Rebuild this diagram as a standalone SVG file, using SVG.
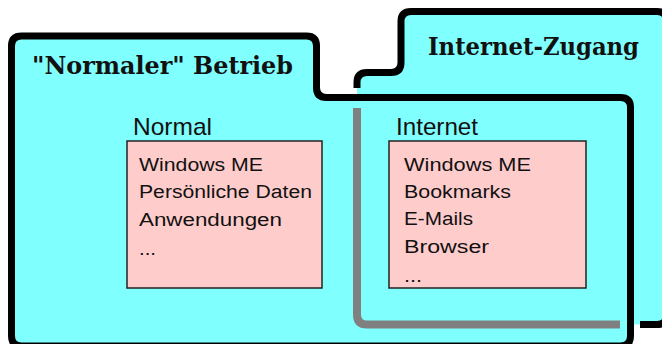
<svg xmlns="http://www.w3.org/2000/svg" width="662" height="344" viewBox="0 0 662 344">
  <style>
    .fold { fill: #80FFFF; }
    .edge { fill: none; stroke: #000; stroke-width: 7; stroke-linejoin: round; }
    .hidden { fill: none; stroke: #808080; stroke-width: 8; }
    .box { fill: #FFCCCC; stroke: #222; stroke-width: 1.5; }
    .title { font-family: "DejaVu Serif", serif; font-weight: bold; font-size: 24px; fill: #111; }
    .label { font-family: "Liberation Sans", Arial, sans-serif; font-size: 24px; fill: #111; }
    .item { font-family: "Liberation Sans", Arial, sans-serif; font-size: 18px; fill: #111; }
  </style>
  <rect width="662" height="344" fill="#fff"/>

  <g id="folder-internet-zugang">
    <path class="fold" d="M 357 82.5 Q 357 72.5 367 72.5 L 391 72.5 Q 401 72.5 401 62.5 L 401 21.5 Q 401 11.5 411 11.5 L 657 11.5 Q 667 11.5 667 21.5 L 667 314.5 Q 667 324.5 657 324.5 L 367 324.5 Q 357 324.5 357 314.5 Z"/>
    <path class="edge" d="M 357 88 L 357 82.5 Q 357 72.5 367 72.5 L 391 72.5 Q 401 72.5 401 62.5 L 401 21.5 Q 401 11.5 411 11.5 L 657 11.5 Q 667 11.5 667 21.5 L 667 120"/>
    <path class="edge" d="M 640 324.5 L 657 324.5 Q 667 324.5 667 314.5"/>
    <text class="title" x="428" y="55" textLength="211" lengthAdjust="spacingAndGlyphs">Internet-Zugang</text>
  </g>

  <g id="folder-normaler-betrieb">
    <path class="fold" d="M 11.5 46 Q 11.5 36 21.5 36 L 306.5 36 Q 316.5 36 316.5 46 L 316.5 87.5 Q 316.5 97.5 326.5 97.5 L 620.5 97.5 Q 630.5 97.5 630.5 107.5 L 630.5 336 Q 630.5 346 620.5 346 L 21.5 346 Q 11.5 346 11.5 336 Z"/>
    <path class="edge" d="M 11.5 46 Q 11.5 36 21.5 36 L 306.5 36 Q 316.5 36 316.5 46 L 316.5 87.5 Q 316.5 97.5 326.5 97.5 L 620.5 97.5 Q 630.5 97.5 630.5 107.5 L 630.5 336 Q 630.5 346 620.5 346 L 21.5 346 Q 11.5 346 11.5 336 Z"/>
    <text class="title" x="32" y="74" textLength="261" lengthAdjust="spacingAndGlyphs">"Normaler" Betrieb</text>
  </g>

  <g id="folder-internet-zugang-hidden-edge">
    <path class="hidden" d="M 357 108 L 357 314.5 Q 357 324.5 367 324.5 L 620 324.5"/>
  </g>

  <g id="box-normal">
    <text class="label" x="133" y="135" textLength="79" lengthAdjust="spacingAndGlyphs">Normal</text>
    <rect class="box" x="127" y="141" width="195" height="147"/>
    <text class="item" x="139" y="171" textLength="124" lengthAdjust="spacingAndGlyphs">Windows ME</text>
    <text class="item" x="139" y="198" textLength="173" lengthAdjust="spacingAndGlyphs">Persönliche Daten</text>
    <text class="item" x="139" y="226" textLength="143" lengthAdjust="spacingAndGlyphs">Anwendungen</text>
    <text class="item" x="139" y="255" textLength="17" lengthAdjust="spacingAndGlyphs">...</text>
  </g>

  <g id="box-internet">
    <text class="label" x="396" y="135" textLength="82" lengthAdjust="spacingAndGlyphs">Internet</text>
    <rect class="box" x="389" y="141" width="197" height="147"/>
    <text class="item" x="404" y="171" textLength="127" lengthAdjust="spacingAndGlyphs">Windows ME</text>
    <text class="item" x="404" y="198" textLength="107" lengthAdjust="spacingAndGlyphs">Bookmarks</text>
    <text class="item" x="404" y="225" textLength="69" lengthAdjust="spacingAndGlyphs">E-Mails</text>
    <text class="item" x="404" y="253" textLength="85" lengthAdjust="spacingAndGlyphs">Browser</text>
    <text class="item" x="404" y="282" textLength="18" lengthAdjust="spacingAndGlyphs">...</text>
  </g>

  <g id="connectors"/>
</svg>
